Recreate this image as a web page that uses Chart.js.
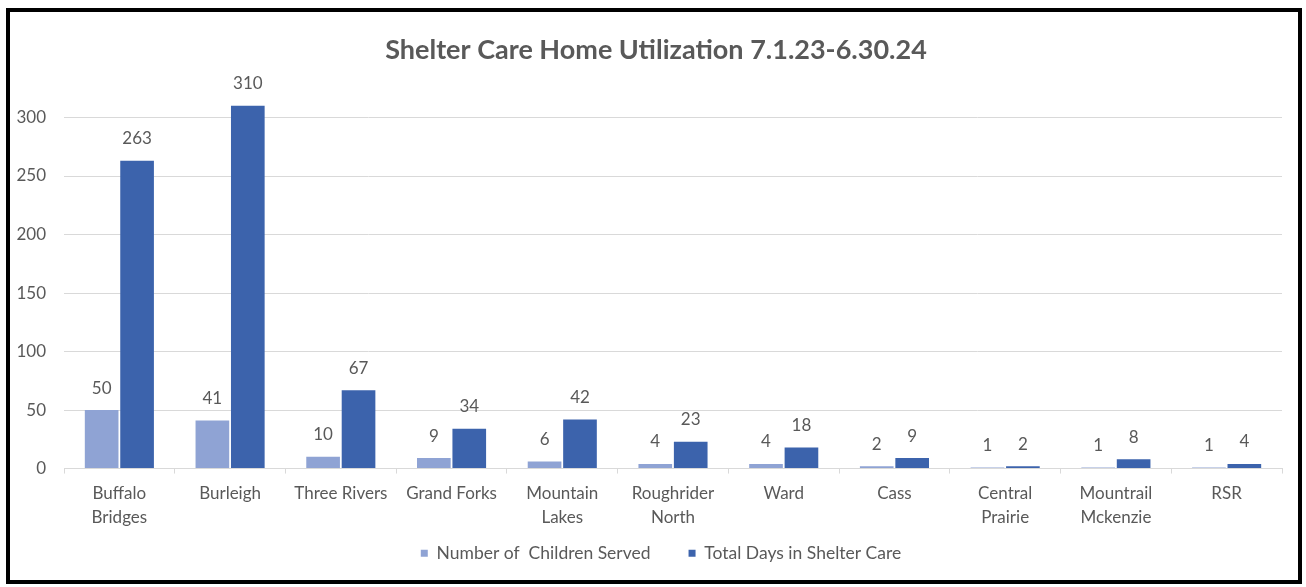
<!DOCTYPE html>
<html>
<head>
<meta charset="utf-8">
<script src="https://cdn.jsdelivr.net/npm/chart.js@4.4.1/dist/chart.umd.min.js"></script>
<style>
  html, body { margin: 0; padding: 0; background: #fff; }
  #frame {
    position: absolute; left: 6px; top: 8px; width: 1296px; height: 576px;
    box-sizing: border-box; border: 4px solid #000; background: #fff;
  }
  #wrap { position: absolute; left: 0; top: 0; width: 1288px; height: 568px; }
</style>
</head>
<body>
<div id="frame"><div id="wrap"><canvas id="chart"></canvas></div></div>
<script>
// categories and series
const categories = [
  ["Buffalo", "Bridges"], "Burleigh", "Three Rivers", "Grand Forks",
  ["Mountain", "Lakes"], ["Roughrider", "North"], "Ward", "Cass",
  ["Central", "Prairie"], ["Mountrail", "Mckenzie"], "RSR"
];
const childrenServed = [50, 41, 10, 9, 6, 4, 4, 2, 1, 1, 1];
const daysInShelter = [263, 310, 67, 34, 42, 23, 18, 9, 2, 8, 4];

const textGray = "#595959";
const fontFamily = "Lato, 'Open Sans', sans-serif";

// draws value labels above each bar
const valueLabels = {
  id: "valueLabels",
  afterDatasetsDraw(chart) {
    const ctx = chart.ctx;
    ctx.save();
    ctx.fillStyle = textGray;
    ctx.font = "17px " + fontFamily;
    ctx.textAlign = "center";
    ctx.textBaseline = "middle";
    chart.data.datasets.forEach((ds, i) => {
      chart.getDatasetMeta(i).data.forEach((bar, j) => {
        ctx.fillText(ds.data[j], bar.x, bar.y - 22);
      });
    });
    ctx.restore();
  }
};

// draw a layout box moved by dx/dy without changing the space it takes
function shiftBox(box, dx, dy) {
  const draw = box.draw;
  box.draw = function (area) {
    const { left, right, top } = this;
    this.left = left + dx;
    this.right = right + dx;
    this.top = top + dy;
    draw.call(this, area);
    this.left = left;
    this.right = right;
    this.top = top;
  };
}

// keep wide spacing between legend items but take less height
const LEGEND_SHRINK = 31;
const boxTweaks = {
  id: "boxTweaks",
  beforeInit(chart) {
    const legend = chart.legend;
    const fit = legend.fit;
    legend.fit = function () {
      fit.call(this);
      this.height -= LEGEND_SHRINK;
    };
    shiftBox(legend, 15, -LEGEND_SHRINK);
    shiftBox(chart.titleBlock, 10, 0);
  }
};

new Chart(document.getElementById("chart"), {
  type: "bar",
  data: {
    labels: categories,
    datasets: [
      {
        label: "Number of  Children Served",
        data: childrenServed,
        backgroundColor: "#8FA3D4",
        borderWidth: 0
      },
      {
        label: "Total Days in Shelter Care",
        data: daysInShelter,
        backgroundColor: "#3C63AC",
        borderWidth: 0
      }
    ]
  },
  options: {
    responsive: true,
    maintainAspectRatio: false,
    animation: false,
    categoryPercentage: 0.64,
    barPercentage: 0.95,
    layout: { padding: { left: 0, right: 16, top: 0, bottom: 8 } },
    plugins: {
      title: {
        display: true,
        text: "Shelter Care Home Utilization 7.1.23-6.30.24",
        color: textGray,
        font: { family: fontFamily, size: 27, weight: "bold" },
        padding: { top: 22, bottom: 16 }
      },
      legend: {
        position: "bottom",
        labels: {
          color: textGray,
          font: { family: fontFamily, size: 17.5 },
          boxWidth: 7,
          boxHeight: 7,
          padding: 38
        }
      },
      tooltip: { enabled: false }
    },
    scales: {
      x: {
        grid: {
          offset: true,
          drawOnChartArea: false,
          drawTicks: true,
          tickLength: 5,
          color: "#d9d9d9"
        },
        border: { color: "#d9d9d9" },
        ticks: {
          color: textGray,
          font: { family: fontFamily, size: 17, lineHeight: 1.41 },
          maxRotation: 0,
          autoSkip: false,
          padding: 8
        }
      },
      y: {
        min: 0,
        max: 330,
        afterBuildTicks: axis => {
          axis.ticks = axis.ticks.filter(t => t.value % 50 === 0);
        },
        afterFit: axis => { axis.width = 54; },
        ticks: {
          stepSize: 50,
          color: textGray,
          font: { family: fontFamily, size: 17 },
          padding: 18
        },
        grid: { color: "#d9d9d9", drawTicks: false },
        border: { display: false }
      }
    }
  },
  plugins: [valueLabels, boxTweaks]
});
</script>
</body>
</html>
